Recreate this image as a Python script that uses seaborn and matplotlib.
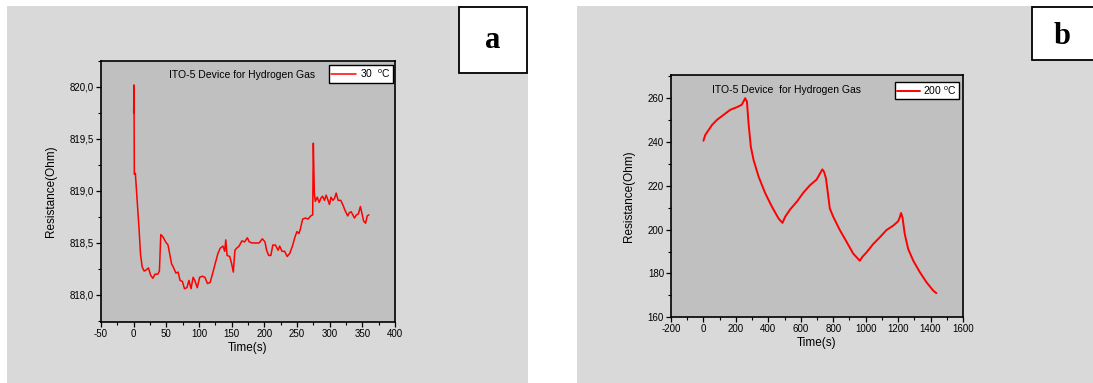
import matplotlib
matplotlib.use("Agg")
import matplotlib.pyplot as plt
from matplotlib.patches import Rectangle
from matplotlib.ticker import MultipleLocator, FuncFormatter
import numpy as np
import pandas as pd
import seaborn as sns

# ---- data: resistance response of ITO-5 device to hydrogen ----
time_30 = [0, 0.5, 1, 2.6, 5, 8, 10.5, 13, 16, 19, 22.6, 26, 29.4, 32.6, 37, 39.4, 41.5, 44.7,
           49, 52.6, 55, 58, 60.5, 64.7, 68, 71, 74.6, 77.8, 81.5, 84.6, 87.8, 91, 93.6, 97.3,
           101, 105, 109, 113, 117, 121, 124.7, 129, 132.5, 136.7, 139.3, 141, 143, 147, 150,
           152.5, 155, 157.7, 161.4, 165.6, 169.8, 174, 177, 181, 186.6, 192, 197, 201, 203.5,
           206.7, 210, 213, 217, 221, 223.5, 227, 231, 235, 239, 243, 247, 250, 253, 255, 258.7,
           262.9, 267, 271, 274, 275, 276.5, 278, 281, 284, 286.5, 289, 292, 294.6, 297, 299.7,
           302, 305, 307.5, 310, 313, 317, 320.7, 323, 327.6, 330, 332.8, 335.5, 338, 341, 344,
           347, 349.6, 352, 355, 357.5, 360]
res_30 = [819.75, 820.02, 819.16, 819.17, 818.94, 818.66, 818.39, 818.27, 818.23, 818.24, 818.26,
          818.19, 818.16, 818.20, 818.20, 818.23, 818.58, 818.56, 818.51, 818.48, 818.40, 818.30,
          818.27, 818.21, 818.22, 818.14, 818.13, 818.06, 818.07, 818.14, 818.06, 818.17, 818.14,
          818.07, 818.17, 818.18, 818.17, 818.11, 818.12, 818.21, 818.30, 818.40, 818.45, 818.47,
          818.42, 818.53, 818.38, 818.37, 818.30, 818.22, 818.43, 818.45, 818.47, 818.52, 818.51,
          818.55, 818.51, 818.50, 818.50, 818.50, 818.54, 818.51, 818.43, 818.38, 818.38, 818.48,
          818.48, 818.43, 818.47, 818.42, 818.42, 818.37, 818.40, 818.47, 818.56, 818.61, 818.59,
          818.63, 818.73, 818.74, 818.73, 818.76, 818.77, 819.46, 818.98, 818.90, 818.94, 818.89,
          818.93, 818.95, 818.91, 818.96, 818.92, 818.87, 818.94, 818.91, 818.93, 818.98, 818.91,
          818.91, 818.86, 818.82, 818.76, 818.79, 818.80, 818.77, 818.74, 818.77, 818.78, 818.85,
          818.78, 818.71, 818.69, 818.76, 818.77]

time_200 = [0, 11, 32, 53, 83, 124, 165, 206, 236, 247, 257, 268, 278, 292, 309, 340, 381, 422,
            463, 487, 504, 534, 575, 616, 657, 698, 719, 733, 743, 755, 770, 779, 800, 841, 882,
            923, 964, 980, 1005, 1046, 1087, 1128, 1169, 1200, 1210, 1218, 1227, 1241, 1262, 1293,
            1334, 1375, 1416, 1436]
res_200 = [240.6, 243.2, 245.5, 247.8, 250.1, 252.4, 254.7, 255.9, 257.0, 258.5, 260.0, 258.5,
           248.6, 237.9, 231.8, 224.2, 216.6, 210.5, 205.1, 203.1, 205.9, 209.2, 212.7, 216.9,
           220.3, 222.9, 225.7, 227.5, 226.5, 223.5, 215.0, 209.7, 205.9, 199.8, 194.5, 189.1,
           185.8, 187.6, 189.6, 193.4, 196.5, 199.8, 201.8, 203.8, 205.6, 207.6, 205.6, 198.0,
           191.2, 185.9, 180.6, 176.0, 172.2, 171.0]

df_a = pd.DataFrame({"Time(s)": time_30, "Resistance(Ohm)": res_30})
df_b = pd.DataFrame({"Time(s)": time_200, "Resistance(Ohm)": res_200})

sns.set_style("ticks")
plt.rcParams["font.family"] = ["Liberation Sans", "DejaVu Sans"]
plt.rcParams["mathtext.fontset"] = "custom"
plt.rcParams["mathtext.rm"] = "Liberation Sans"
plt.rcParams["axes.unicode_minus"] = False
for key in ["text.color", "axes.labelcolor", "xtick.color", "ytick.color"]:
    plt.rcParams[key] = "black"

W, H = 1093, 383
fig = plt.figure(figsize=(W / 100, H / 100), dpi=100)
fig.patch.set_facecolor("white")


def px_rect(x0, y0, x1, y1, **kw):
    """Rectangle given in pixel coordinates (origin top-left)."""
    r = Rectangle((x0 / W, 1 - y1 / H), (x1 - x0) / W, (y1 - y0) / H,
                  transform=fig.transFigure, **kw)
    fig.patches.append(r)
    return r


# panel backgrounds
px_rect(7, 6, 528, 383, facecolor="#d9d9d9", edgecolor="none", zorder=0)
px_rect(577, 6, 1093, 383, facecolor="#d9d9d9", edgecolor="none", zorder=0)

# panel letter boxes
px_rect(459, 7, 527, 73, facecolor="white", edgecolor="black", linewidth=1.3, zorder=1)
px_rect(1032, 7, 1100, 60, facecolor="white", edgecolor="black", linewidth=1.3, zorder=1)
fig.text(493 / W, 1 - 40 / H, "a", ha="center", va="center", fontsize=22,
         fontweight="bold", family="Liberation Serif", zorder=2)
fig.text(1062 / W, 1 - 37 / H, "b", ha="center", va="center", fontsize=22,
         fontweight="bold", family="Liberation Serif", zorder=2)


def make_axes(x0, y0, x1, y1):
    ax = fig.add_axes([x0 / W, 1 - y1 / H, (x1 - x0) / W, (y1 - y0) / H])
    ax.set_zorder(3)
    return ax


ax_a = make_axes(101, 61, 395, 322)
ax_b = make_axes(671, 75, 963, 317.3)

for ax, df, lw, lab in [(ax_a, df_a, 1.1, r"30  $^{\rm o}$C"),
                        (ax_b, df_b, 1.4, r"200 $^{\rm o}$C")]:
    sns.lineplot(data=df, x="Time(s)", y="Resistance(Ohm)", color="#ff0000",
                 linewidth=lw, label=lab, ax=ax, sort=False)
    ax.set_facecolor("#c0c0c0")
    for s in ax.spines.values():
        s.set_linewidth(1.2)
        s.set_color("black")
    ax.tick_params(which="major", direction="out", length=3.5, width=0.9,
                   labelsize=7, pad=1.5)
    ax.tick_params(which="minor", direction="out", length=2, width=0.8)
    ax.set_xlabel("Time(s)", fontsize=8.5, labelpad=2)
    ax.set_ylabel("Resistance(Ohm)", fontsize=8.5, labelpad=9)

# panel a axes
ax_a.set_xlim(-50, 400)
ax_a.set_ylim(817.74, 820.25)
ax_a.xaxis.set_major_locator(MultipleLocator(50))
ax_a.xaxis.set_minor_locator(MultipleLocator(25))
ax_a.yaxis.set_major_locator(MultipleLocator(0.5))
ax_a.yaxis.set_minor_locator(MultipleLocator(0.25))
ax_a.yaxis.set_major_formatter(FuncFormatter(lambda v, p: f"{v:.1f}".replace(".", ",")))
ax_a.text(0.479, 0.948, "ITO-5 Device for Hydrogen Gas", transform=ax_a.transAxes,
          ha="center", va="center", fontsize=7.5)
ax_a.legend(loc="upper right", bbox_to_anchor=(0.993, 0.985), borderaxespad=0,
            fontsize=7.5, frameon=True, fancybox=False, edgecolor="black",
            framealpha=1, handlelength=2.4, handletextpad=0.3, borderpad=0.25)
ax_a.get_legend().get_frame().set_linewidth(1.0)

# panel b axes
ax_b.set_xlim(-200, 1600)
ax_b.set_ylim(160, 270.6)
ax_b.xaxis.set_major_locator(MultipleLocator(200))
ax_b.xaxis.set_minor_locator(MultipleLocator(100))
ax_b.yaxis.set_major_locator(MultipleLocator(20))
ax_b.yaxis.set_minor_locator(MultipleLocator(10))
ax_b.text(0.396, 0.938, "ITO-5 Device  for Hydrogen Gas", transform=ax_b.transAxes,
          ha="center", va="center", fontsize=7.5)
ax_b.legend(loc="upper right", bbox_to_anchor=(0.986, 0.97), borderaxespad=0,
            fontsize=7.5, frameon=True, fancybox=False, edgecolor="black",
            framealpha=1, handlelength=2.2, handletextpad=0.3, borderpad=0.2)
ax_b.get_legend().get_frame().set_linewidth(1.0)

fig.savefig("out.png", dpi=100, facecolor=fig.get_facecolor())
